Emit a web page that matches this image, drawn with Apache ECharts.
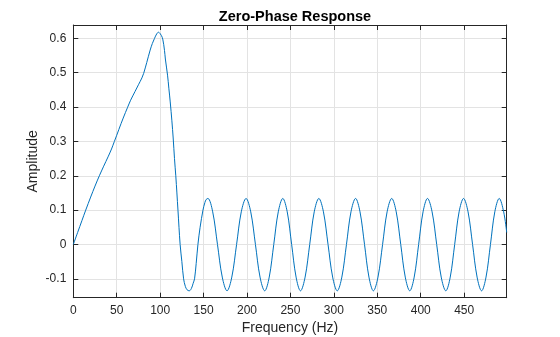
<!DOCTYPE html>
<html>
<head>
<meta charset="utf-8">
<script src="https://cdn.jsdelivr.net/npm/echarts@6/dist/echarts.min.js"></script>
<style>html,body{margin:0;padding:0;background:#fff;}#c{width:560px;height:337px;}</style>
</head>
<body>
<div id="c"></div>
<script>
const freq = [0,5,10,14.3,20,25,30,35,40,44,47.3,50,55,60,62.3,66,71,75,79,81,84.6,88.5,91,93.5,96,98,100,101.5,103,105,106,108.5,110,111.6,113.5,115,116.5,118,120.5,123,125,127,129,131,133.5,136,138,139.6,141.5,143.5,146,149.3,151.5,153,
155,160.5,166,171.5,177,182.5,188,193.4,198.9,204.3,209.7,215,220.4,225.6,230.8,236,241.2,246.3,251.4,256.5,261.6,266.9,272.2,277.4,282.7,288,293.3,298.6,303.9,309.2,314.5,319.7,325,330.1,335.3,340.4,345.5,350.8,356.1,361.3,366.6,371.8,377,382.2,387.4,392.5,397.6,402.7,407.8,413.1,418.4,423.6,428.9,434,439.1,444.2,449.3,454.5,459.7,464.9,470.1,475.2,480.3,485.3,490.4,495.5,499];
const amp = [0,0.035,0.07,0.1,0.138,0.17,0.2,0.228,0.255,0.278,0.3,0.318,0.352,0.384,0.398,0.42,0.445,0.465,0.485,0.498,0.53,0.566,0.585,0.6,0.613,0.618,0.614,0.608,0.598,0.565,0.54,0.493,0.455,0.415,0.36,0.31,0.25,0.2,0.1,0,-0.05,-0.1,-0.122,-0.132,-0.135,-0.128,-0.113,-0.1,-0.055,0,0.05,0.1,0.122,0.131,
0.134,0.095,0,-0.095,-0.135,-0.095,0,0.095,0.134,0.095,0,-0.095,-0.135,-0.095,0,0.095,0.134,0.095,0,-0.095,-0.135,-0.095,0,0.095,0.134,0.095,0,-0.095,-0.135,-0.095,0,0.095,0.134,0.095,0,-0.095,-0.135,-0.095,0,0.095,0.134,0.095,0,-0.095,-0.135,-0.095,0,0.095,0.134,0.095,0,-0.095,-0.135,-0.095,0,0.095,0.134,0.095,0,-0.095,-0.135,-0.095,0,0.095,0.134,0.095,0.035];
const xTickStep = 50;
const yTickStep = 0.1;
const titleText = 'Zero-Phase Response';
const xName = 'Frequency (Hz)';
const yName = 'Amplitude';

const pts = freq.map((f, i) => [f, amp[i]]);
const axisCol = '#262626';
const gridCol = '#e3e3e3';
const font = 'Liberation Sans, Arial, sans-serif';

const chart = echarts.init(document.getElementById('c'), null, {renderer: 'canvas'});
chart.setOption({
  animation: false,
  backgroundColor: '#ffffff',
  title: {
    text: titleText, left: 290, top: 4, textAlign: 'center',
    textStyle: {fontFamily: font, fontSize: 14.5, fontWeight: 'bold', color: '#000'}
  },
  grid: {left: 73.3, right: 53.3, top: 25, bottom: 39.3, containLabel: false, outerBoundsMode: 'none'},
  xAxis: [{
    type: 'value', min: 0, max: 499, interval: xTickStep, position: 'bottom',
    name: xName, nameLocation: 'middle', nameGap: 23, nameMoveOverlap: false,
    nameTextStyle: {fontFamily: font, fontSize: 14, color: axisCol},
    axisLine: {show: true, onZero: false, lineStyle: {color: axisCol, width: 1}},
    axisTick: {show: true, inside: true, length: 5, lineStyle: {color: axisCol}},
    axisLabel: {show: true, color: axisCol, fontFamily: font, fontSize: 12, margin: 7, showMaxLabel: false},
    splitLine: {show: true, lineStyle: {color: gridCol, width: 1}}
  }, {
    type: 'value', min: 0, max: 499, interval: xTickStep, position: 'top',
    axisLine: {show: true, onZero: false, lineStyle: {color: axisCol, width: 1}},
    axisTick: {show: true, inside: true, length: 5, lineStyle: {color: axisCol}},
    axisLabel: {show: false}, splitLine: {show: false}
  }],
  yAxis: [{
    type: 'value', min: -0.155, max: 0.639, splitNumber: 8, minInterval: yTickStep, maxInterval: yTickStep,
    position: 'left',
    name: yName, nameLocation: 'middle', nameGap: 33, nameMoveOverlap: false,
    nameTextStyle: {fontFamily: font, fontSize: 14, color: axisCol},
    axisLine: {show: true, onZero: false, lineStyle: {color: axisCol, width: 1}},
    axisTick: {show: true, inside: true, length: 5, lineStyle: {color: axisCol}},
    axisLabel: {show: true, color: axisCol, fontFamily: font, fontSize: 12, margin: 7,
      showMinLabel: false, showMaxLabel: false},
    splitLine: {show: true, lineStyle: {color: gridCol, width: 1}}
  }, {
    type: 'value', min: -0.155, max: 0.639, splitNumber: 8, minInterval: yTickStep, maxInterval: yTickStep,
    position: 'right',
    axisLine: {show: true, onZero: false, lineStyle: {color: axisCol, width: 1}},
    axisTick: {show: true, inside: true, length: 5, lineStyle: {color: axisCol}},
    axisLabel: {show: false}, splitLine: {show: false}
  }],
  series: [{
    type: 'line', xAxisIndex: 0, yAxisIndex: 0, data: pts,
    smooth: 0.35, showSymbol: false, symbol: 'none',
    lineStyle: {color: '#0072BD', width: 1}
  }]
});
</script>
</body>
</html>
